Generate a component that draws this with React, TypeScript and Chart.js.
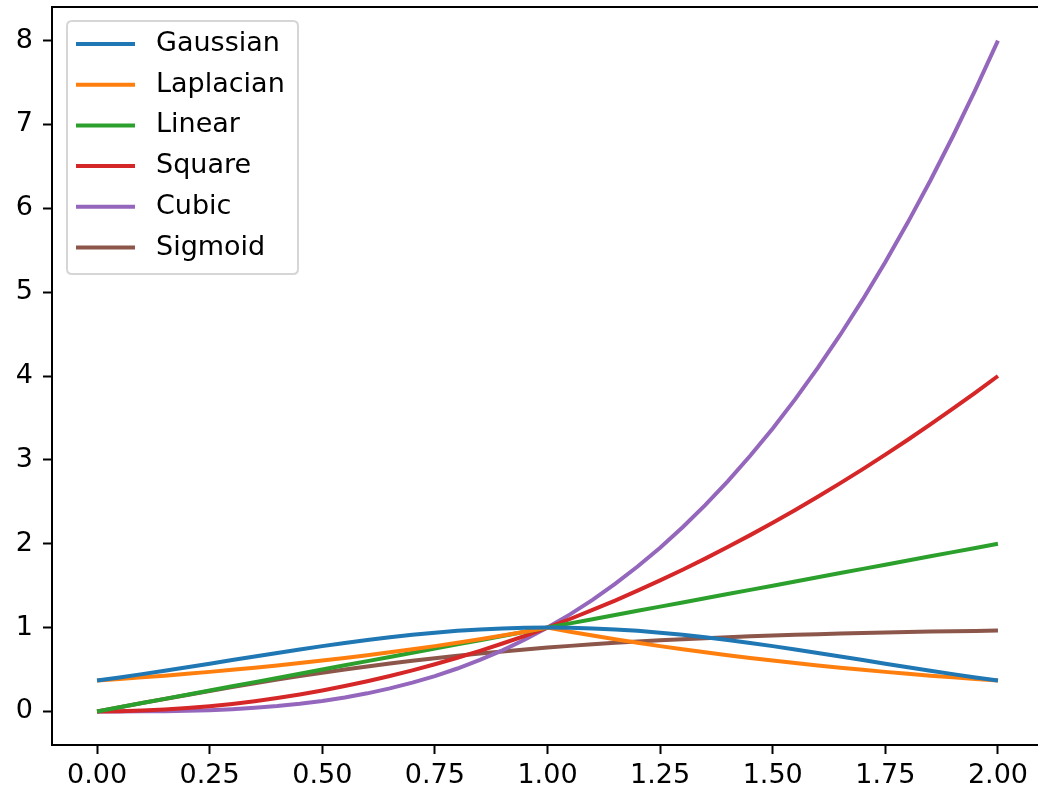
import React, { useEffect, useRef } from "react";
import { Chart, registerables } from "chart.js";

Chart.register(...registerables);

const xValues = [0, 0.05, 0.1, 0.15, 0.2, 0.25, 0.3, 0.35, 0.4, 0.45, 0.5, 0.55, 0.6, 0.65, 0.7, 0.75, 0.8, 0.85, 0.9, 0.95, 1.0, 1.05, 1.1, 1.15, 1.2, 1.25, 1.3, 1.35, 1.4, 1.45, 1.5, 1.55, 1.6, 1.65, 1.7, 1.75, 1.8, 1.85, 1.9, 1.95, 2.0];

const gaussian = [0.368, 0.406, 0.445, 0.486, 0.527, 0.570, 0.613, 0.655, 0.698, 0.739, 0.779, 0.817, 0.852, 0.885, 0.914, 0.939, 0.961, 0.978, 0.990, 0.998, 1.0, 0.998, 0.990, 0.978, 0.961, 0.939, 0.914, 0.885, 0.852, 0.817, 0.779, 0.739, 0.698, 0.655, 0.613, 0.570, 0.527, 0.486, 0.445, 0.406, 0.368];

const laplacian = [0.368, 0.387, 0.407, 0.427, 0.449, 0.472, 0.497, 0.522, 0.549, 0.577, 0.607, 0.638, 0.670, 0.705, 0.741, 0.779, 0.819, 0.861, 0.905, 0.951, 1.0, 0.951, 0.905, 0.861, 0.819, 0.779, 0.741, 0.705, 0.670, 0.638, 0.607, 0.577, 0.549, 0.522, 0.497, 0.472, 0.449, 0.427, 0.407, 0.387, 0.368];

const linear = [0, 0.05, 0.1, 0.15, 0.2, 0.25, 0.3, 0.35, 0.4, 0.45, 0.5, 0.55, 0.6, 0.65, 0.7, 0.75, 0.8, 0.85, 0.9, 0.95, 1.0, 1.05, 1.1, 1.15, 1.2, 1.25, 1.3, 1.35, 1.4, 1.45, 1.5, 1.55, 1.6, 1.65, 1.7, 1.75, 1.8, 1.85, 1.9, 1.95, 2.0];

const square = [0, 0.0025, 0.01, 0.0225, 0.04, 0.0625, 0.09, 0.1225, 0.16, 0.2025, 0.25, 0.3025, 0.36, 0.4225, 0.49, 0.5625, 0.64, 0.7225, 0.81, 0.9025, 1.0, 1.1025, 1.21, 1.3225, 1.44, 1.5625, 1.69, 1.8225, 1.96, 2.1025, 2.25, 2.4025, 2.56, 2.7225, 2.89, 3.0625, 3.24, 3.4225, 3.61, 3.8025, 4.0];

const cubic = [0, 0.000125, 0.001, 0.003375, 0.008, 0.015625, 0.027, 0.042875, 0.064, 0.091125, 0.125, 0.166375, 0.216, 0.274625, 0.343, 0.421875, 0.512, 0.614125, 0.729, 0.857375, 1.0, 1.157625, 1.331, 1.520875, 1.728, 1.953125, 2.197, 2.460375, 2.744, 3.048625, 3.375, 3.723875, 4.096, 4.492125, 4.913, 5.359375, 5.832, 6.331625, 6.859, 7.414875, 8.0];

const sigmoid = [0, 0.050, 0.100, 0.149, 0.197, 0.245, 0.291, 0.336, 0.380, 0.422, 0.462, 0.501, 0.537, 0.572, 0.604, 0.635, 0.664, 0.691, 0.716, 0.740, 0.762, 0.782, 0.801, 0.818, 0.834, 0.848, 0.862, 0.874, 0.885, 0.896, 0.905, 0.914, 0.922, 0.929, 0.935, 0.941, 0.947, 0.952, 0.956, 0.960, 0.964];

const seriesNames = ["Gaussian", "Laplacian", "Linear", "Square", "Cubic", "Sigmoid"];
const seriesValues = [gaussian, laplacian, linear, square, cubic, sigmoid];
const seriesColors = ["#1f77b4", "#ff7f0e", "#2ca02c", "#d62728", "#9467bd", "#8c564b"];

const xTickValues = [0, 0.25, 0.5, 0.75, 1.0, 1.25, 1.5, 1.75, 2.0];
const xTickLabels = ["0.00", "0.25", "0.50", "0.75", "1.00", "1.25", "1.50", "1.75", "2.00"];
const yTickValues = [0, 1, 2, 3, 4, 5, 6, 7, 8];

const FONT = "'DejaVu Sans', sans-serif";

const framePlugin = {
  id: "frame",
  afterDatasetsDraw(chart: any) {
    const { ctx, chartArea } = chart;
    const { left, top } = chartArea;
    ctx.save();

    // legend
    const lx = left + 15;
    const ly = top + 14;
    const lw = 231;
    const lh = 253;
    const r = 5;
    ctx.beginPath();
    ctx.moveTo(lx + r, ly);
    ctx.lineTo(lx + lw - r, ly);
    ctx.quadraticCurveTo(lx + lw, ly, lx + lw, ly + r);
    ctx.lineTo(lx + lw, ly + lh - r);
    ctx.quadraticCurveTo(lx + lw, ly + lh, lx + lw - r, ly + lh);
    ctx.lineTo(lx + r, ly + lh);
    ctx.quadraticCurveTo(lx, ly + lh, lx, ly + lh - r);
    ctx.lineTo(lx, ly + r);
    ctx.quadraticCurveTo(lx, ly, lx + r, ly);
    ctx.closePath();
    ctx.fillStyle = "rgba(255,255,255,0.8)";
    ctx.fill();
    ctx.strokeStyle = "#d6d6d6";
    ctx.lineWidth = 2;
    ctx.stroke();

    ctx.font = `27px ${FONT}`;
    ctx.textBaseline = "middle";
    ctx.textAlign = "left";
    chart.data.datasets.forEach((ds: any, i: number) => {
      const cy = ly + 23 + i * 40.7;
      ctx.strokeStyle = ds.borderColor;
      ctx.lineWidth = 4;
      ctx.beginPath();
      ctx.moveTo(lx + 9, cy);
      ctx.lineTo(lx + 68, cy);
      ctx.stroke();
      ctx.fillStyle = "#000";
      ctx.fillText(ds.label, lx + 89, cy);
    });
    ctx.restore();
  },
  afterDraw(chart: any) {
    const { ctx, chartArea } = chart;
    const { left, top, right, bottom } = chartArea;
    ctx.save();
    // keep the strip right of the last data point clean (right spine lies outside the view)
    ctx.fillStyle = "#fff";
    ctx.fillRect(1012, top + 2, chart.width - 1012, bottom - top - 4);
    // top spine
    ctx.strokeStyle = "#000";
    ctx.lineWidth = 2;
    ctx.beginPath();
    ctx.moveTo(left - 1, top);
    ctx.lineTo(right + 1, top);
    ctx.stroke();
    ctx.restore();
  },
};

export default function App() {
  const canvasRef = useRef<HTMLCanvasElement | null>(null);

  useEffect(() => {
    if (!canvasRef.current) return;
    const datasets = seriesNames.map((name, i) => ({
      label: name,
      data: xValues.map((x, j) => ({ x, y: seriesValues[i][j] })),
      borderColor: seriesColors[i],
      backgroundColor: seriesColors[i],
      borderWidth: 4,
      pointRadius: 0,
      tension: 0,
      fill: false,
    }));
    const chart = new Chart(canvasRef.current, {
      type: "line",
      data: { datasets },
      plugins: [framePlugin],
      options: {
        animation: false,
        responsive: false,
        maintainAspectRatio: false,
        layout: { padding: { top: 7, right: 7, left: 0, bottom: 0 } },
        plugins: { legend: { display: false }, tooltip: { enabled: false } },
        scales: {
          x: {
            type: "linear",
            min: -0.1,
            max: 2.1,
            afterBuildTicks: (scale: any) => {
              scale.ticks = xTickValues.map((v) => ({ value: v }));
            },
            afterFit: (scale: any) => {
              scale.height = 47;
              scale.paddingLeft = 0;
              scale.paddingRight = 0;
              scale.paddingTop = 0;
              scale.paddingBottom = 0;
            },
            ticks: {
              autoSkip: false,
              maxRotation: 0,
              padding: 6,
              color: "#000",
              font: { family: FONT, size: 27 },
              callback: (v: any) => {
                const idx = xTickValues.indexOf(Number(v));
                return idx >= 0 ? xTickLabels[idx] : "";
              },
            },
            grid: {
              display: true,
              drawOnChartArea: false,
              drawTicks: true,
              tickLength: 9,
              tickWidth: 2,
              tickColor: "#000",
            },
            border: { display: true, color: "#000", width: 2 },
          },
          y: {
            type: "linear",
            min: -0.4,
            max: 8.4,
            afterBuildTicks: (scale: any) => {
              scale.ticks = yTickValues.map((v) => ({ value: v }));
            },
            afterFit: (scale: any) => {
              scale.width = 52;
              scale.paddingLeft = 0;
              scale.paddingRight = 0;
              scale.paddingTop = 0;
              scale.paddingBottom = 0;
            },
            ticks: {
              autoSkip: false,
              padding: 10,
              color: "#000",
              font: { family: FONT, size: 27 },
              callback: (v: any) => String(v),
            },
            grid: {
              display: true,
              drawOnChartArea: false,
              drawTicks: true,
              tickLength: 9,
              tickWidth: 2,
              tickColor: "#000",
            },
            border: { display: true, color: "#000", width: 2 },
          },
        },
      },
    });
    return () => chart.destroy();
  }, []);

  return (
    <div
      style={{
        position: "fixed",
        left: 0,
        top: 0,
        width: 1038,
        height: 792,
        overflow: "hidden",
        background: "#fff",
      }}
    >
      <canvas ref={canvasRef} width={1050} height={792} style={{ display: "block", width: 1050, height: 792 }} />
    </div>
  );
}
